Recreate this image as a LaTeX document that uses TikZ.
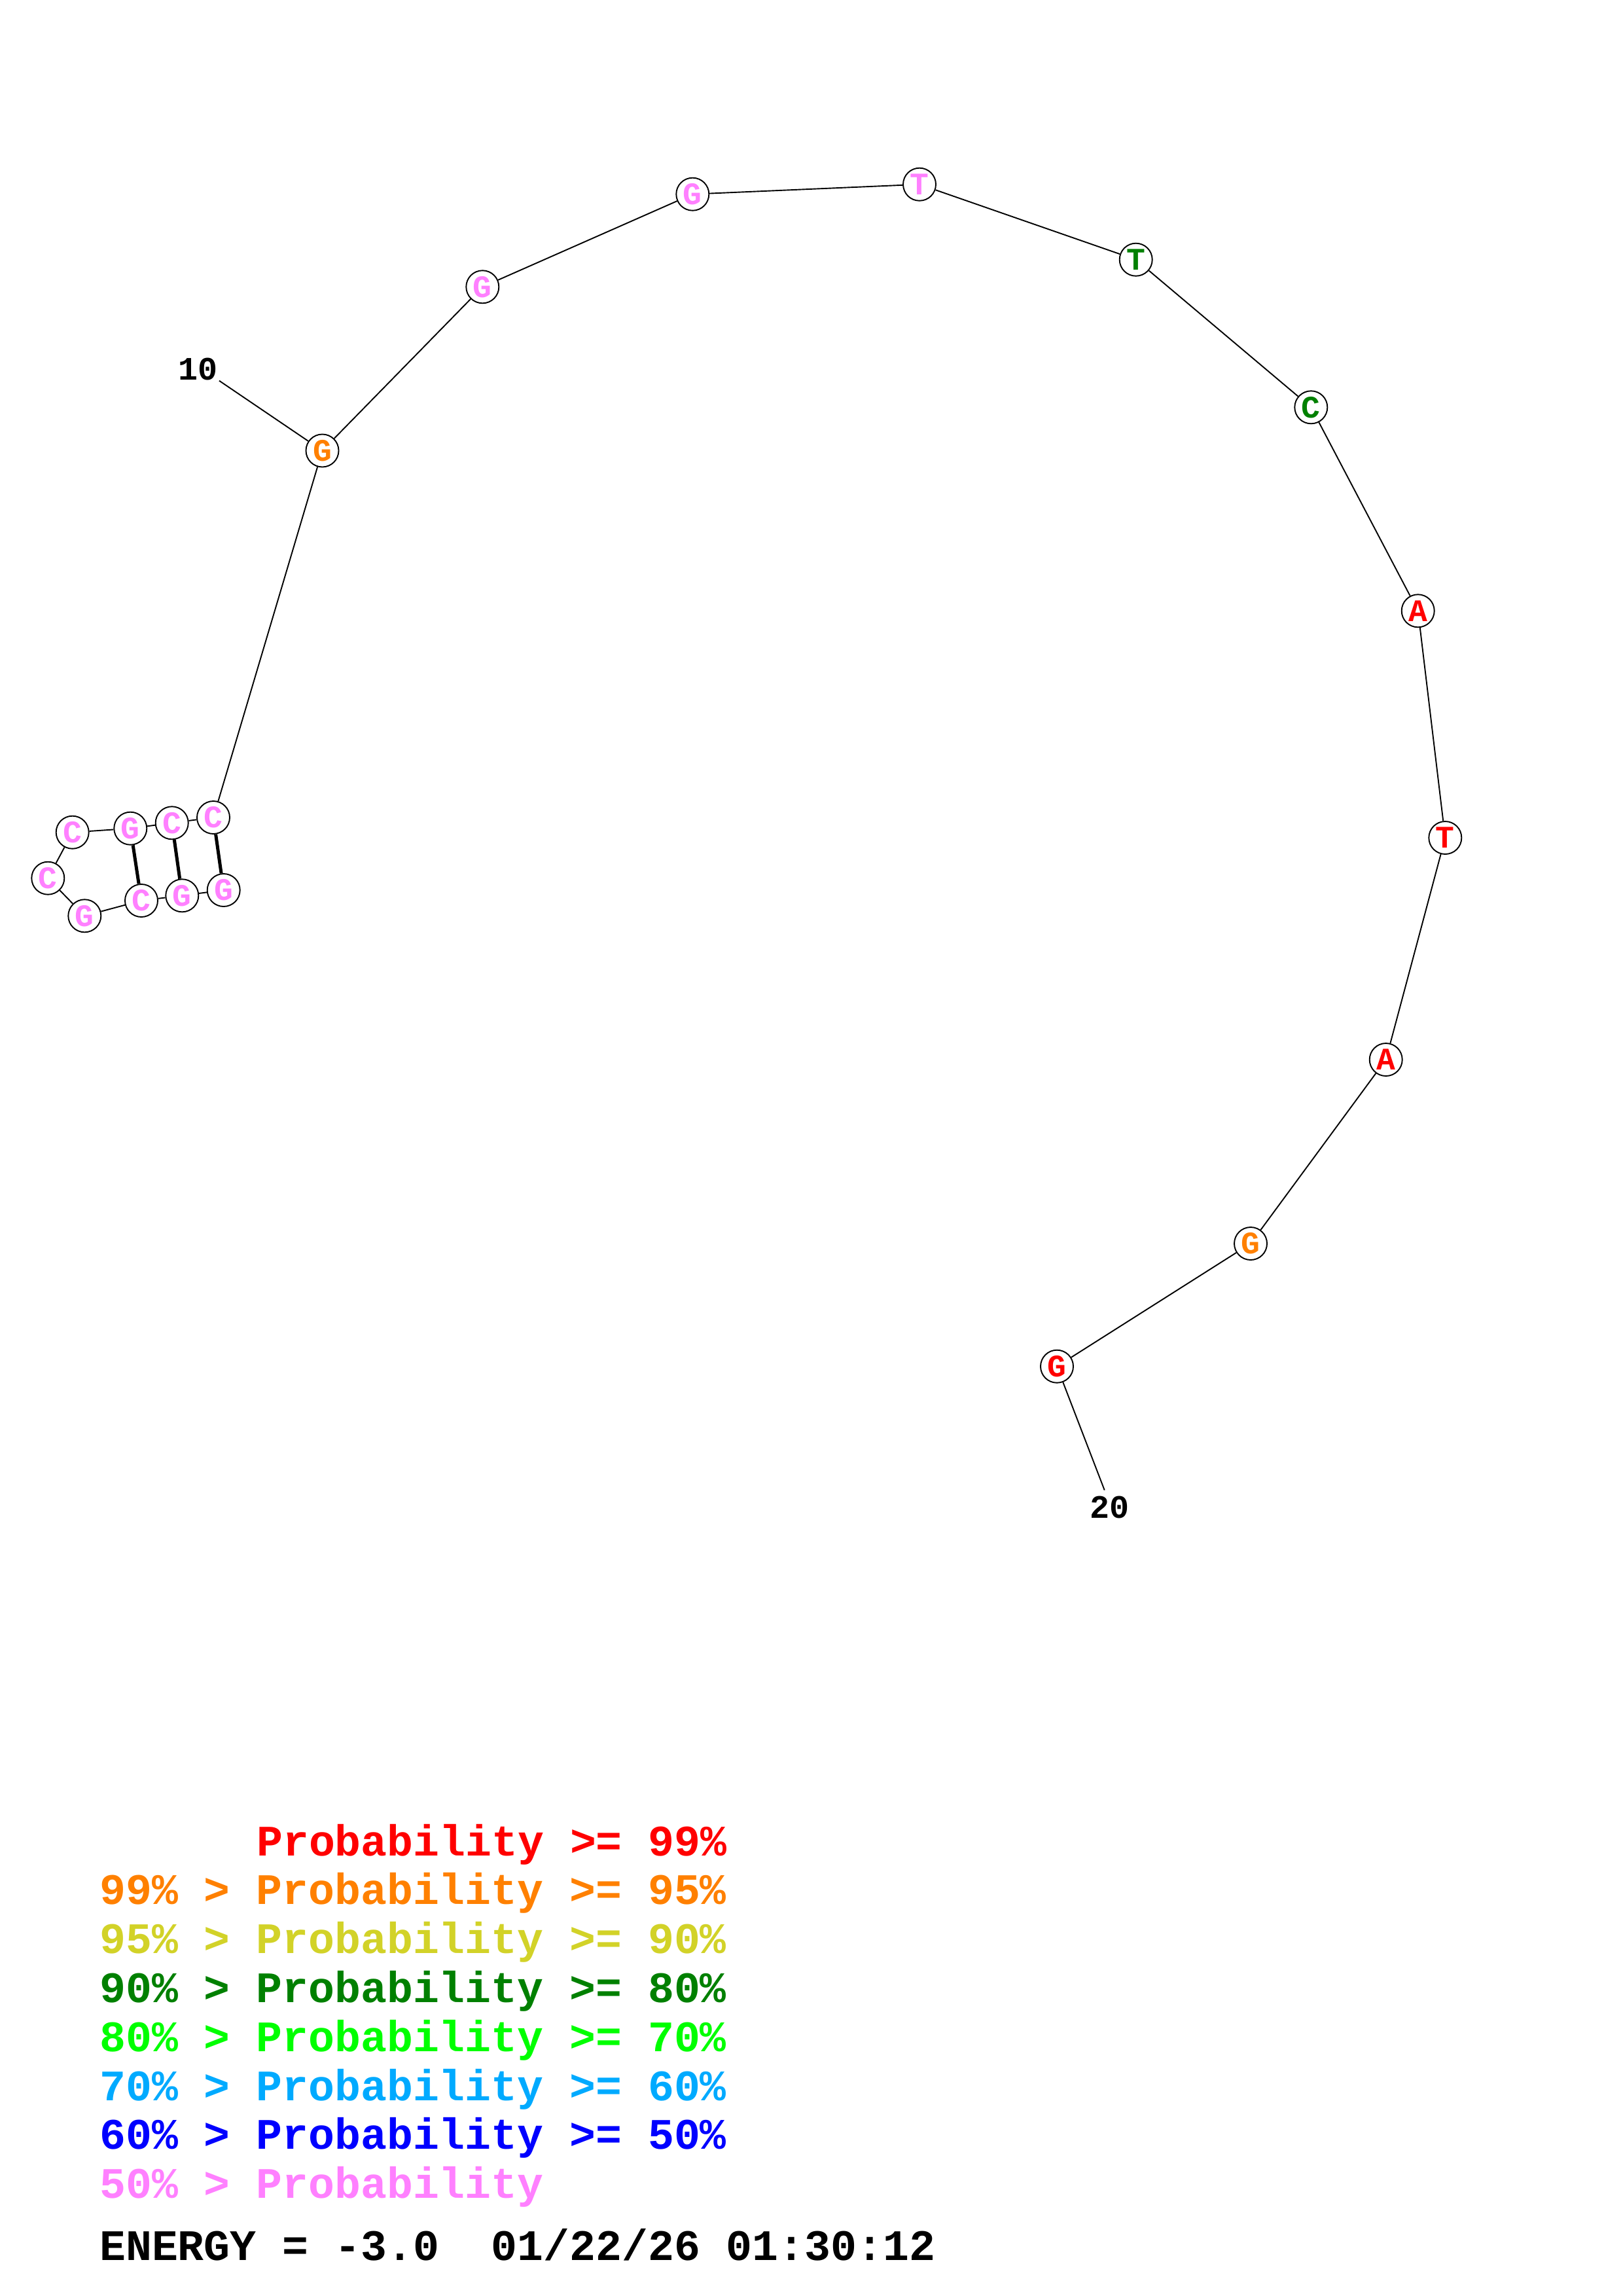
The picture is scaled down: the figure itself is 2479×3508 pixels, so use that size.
\documentclass[tikz,border=0pt]{standalone}
\usepackage{fontspec}
\setmainfont{Liberation Mono}
\definecolor{pRed}{RGB}{255,0,0}
\definecolor{pOrange}{RGB}{255,128,0}
\definecolor{pYellow}{RGB}{210,210,40}
\definecolor{pDkGreen}{RGB}{0,128,0}
\definecolor{pGreen}{RGB}{0,255,0}
\definecolor{pSky}{RGB}{0,170,255}
\definecolor{pBlue}{RGB}{0,0,255}
\definecolor{pPink}{RGB}{255,128,255}
\tikzset{
  base/.style={circle, draw=black, fill=white, line width=1.9pt, minimum size=50pt, inner sep=0pt,
    font=\fontsize{48}{48}\selectfont\bfseries},
  bb/.style={line width=1.9pt},
  pairbond/.style={line width=5pt},
  numlabel/.style={inner sep=0pt, font=\fontsize{50}{50}\selectfont\bfseries},
  legend/.style={anchor=base west, inner sep=0pt, font=\fontsize{66.5}{66.5}\selectfont\bfseries}
}
\begin{document}
\begin{tikzpicture}[x=1pt,y=-1pt]
\useasboundingbox (0,0) rectangle (2479,3508);
% nucleotides
\node[base, text=pPink] (n1) at (341.7,1360) {G};
\node[base, text=pPink] (n2) at (278.3,1368.3) {G};
\node[base, text=pPink] (n3) at (216,1376) {C};
\node[base, text=pPink] (n4) at (129.3,1399.3) {G};
\node[base, text=pPink] (n5) at (73.3,1341.7) {C};
\node[base, text=pPink] (n6) at (110.7,1271.7) {C};
\node[base, text=pPink] (n7) at (199.3,1265.7) {G};
\node[base, text=pPink] (n8) at (262.7,1257.3) {C};
\node[base, text=pPink] (n9) at (326,1249) {C};
\node[base, text=pOrange] (n10) at (492.5,688.5) {G};
\node[base, text=pPink] (n11) at (737.3,438.3) {G};
\node[base, text=pPink] (n12) at (1058.3,296.7) {G};
\node[base, text=pPink] (n13) at (1405,281.7) {T};
\node[base, text=pDkGreen] (n14) at (1735.7,396.7) {T};
\node[base, text=pDkGreen] (n15) at (2003.3,622.3) {C};
\node[base, text=pRed] (n16) at (2166.7,933.3) {A};
\node[base, text=pRed] (n17) at (2208.3,1280) {T};
\node[base, text=pRed] (n18) at (2117.7,1619) {A};
\node[base, text=pOrange] (n19) at (1911,1900) {G};
\node[base, text=pRed] (n20) at (1615,2087.7) {G};
% backbone
\draw[bb] (n1) -- (n2) -- (n3) -- (n4) -- (n5) -- (n6) -- (n7) -- (n8) -- (n9) -- (n10)
  -- (n11) -- (n12) -- (n13) -- (n14) -- (n15) -- (n16) -- (n17) -- (n18) -- (n19) -- (n20);
% pairs
\draw[pairbond] (n1) -- (n9);
\draw[pairbond] (n2) -- (n8);
\draw[pairbond] (n3) -- (n7);
% number labels
\node[numlabel] (l10) at (302.7,563.8) {10};
\coordinate (e10) at (335,581.7);
\draw[bb] (e10) -- (n10);
\node[numlabel] (l20) at (1695.8,2303.3) {20};
\coordinate (e20) at (1687.7,2276.7);
\draw[bb] (n20) -- (e20);
% legend
\node[legend, text=pRed] (r1) at (392,2835) {Probability >= 99\%};
\node[legend, text=pOrange] (r2) at (152,2909.8) {99\% > Probability >= 95\%};
\node[legend, text=pYellow] (r3) at (152,2984.6) {95\% > Probability >= 90\%};
\node[legend, text=pDkGreen] (r4) at (152,3059.4) {90\% > Probability >= 80\%};
\node[legend, text=pGreen] (r5) at (152,3134.2) {80\% > Probability >= 70\%};
\node[legend, text=pSky] (r6) at (152,3209) {70\% > Probability >= 60\%};
\node[legend, text=pBlue] (r7) at (152,3283.8) {60\% > Probability >= 50\%};
\node[legend, text=pPink] (r8) at (152,3358.6) {50\% > Probability};
\node[legend, text=black] (en) at (152,3453.5) {ENERGY = -3.0~~01/22/26 01:30:12};
\end{tikzpicture}
\end{document}
